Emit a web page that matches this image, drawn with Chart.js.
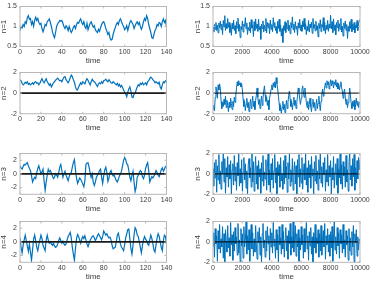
<!DOCTYPE html>
<html>
<head>
<meta charset="UTF-8">
<title>n-mode time series</title>
<script src="https://cdn.jsdelivr.net/npm/chart.js"></script>
<style>
    body {
        margin: 0;
        background: #FFFFFF;
        width: 374px;
        height: 281px;
        overflow: hidden;
        position: relative;
    }
    canvas {
        position: absolute;
    }
</style>
</head>
<body>
<canvas id="s1"></canvas>
<canvas id="l1"></canvas>
<canvas id="s2"></canvas>
<canvas id="l2"></canvas>
<canvas id="s3"></canvas>
<canvas id="l3"></canvas>
<canvas id="s4"></canvas>
<canvas id="l4"></canvas>

<script>
// sampling step of the two time axes
const shortStep = 1;
const longStep = 50;

const shortTicks = [0, 20, 40, 60, 80, 100, 120, 140];
const longTicks = [0, 2000, 4000, 6000, 8000, 10000];
const yTicksN1 = [0.5, 1, 1.5];
const yTicks2 = [-2, 0, 2];

// left column, time 0..140
const shortN1 = [
    0.9, 1.0, 0.97, 1.05, 1.0, 1.12, 1.08, 1.22, 1.27, 1.18, 1.2,
    1.05, 1.12, 1.0, 1.15, 1.23, 1.15, 1.2, 1.1, 1.05, 1.08,
    0.95, 0.87, 0.95, 1.05, 1.02, 1.12, 1.15, 1.19, 1.1, 1.0,
    0.87, 0.78, 0.72, 0.85, 1.0, 1.07, 1.1, 1.15, 1.13, 1.15,
    1.08, 1.0, 0.95, 1.02, 0.98, 0.9, 1.0, 0.92, 0.85, 0.9,
    0.98, 1.02, 0.95, 1.05, 1.1, 1.08, 1.15, 1.19, 1.1, 1.05,
    1.12, 1.0, 0.95, 1.08, 0.92, 1.0, 1.08, 1.12, 1.05, 0.98,
    1.02, 0.92, 0.88, 0.85, 0.93, 0.88, 0.97, 1.05, 1.1, 1.12,
    1.05, 0.95, 0.88, 0.8, 0.85, 0.72, 0.66, 0.68, 0.8, 0.9,
    0.97, 1.05, 1.1, 1.05, 1.15, 1.19, 1.12, 1.05, 1.0, 0.92,
    0.95, 1.02, 0.9, 1.0, 1.1, 1.15, 1.1, 1.05, 0.95, 1.02,
    1.08, 1.12, 1.05, 1.1, 1.0, 0.93, 1.0, 1.12, 1.2, 1.15,
    1.27, 1.2, 1.05, 0.95, 0.85, 0.72, 0.7, 0.8, 0.9, 0.95,
    1.05, 1.02, 1.1, 1.08, 1.0, 1.12, 1.19, 1.1, 1.15, 0.98
];
const shortN2 = [
    1.3, 1.2, 0.95, 0.8, 0.9, 1.05, 0.95, 1.1, 0.85, 0.95, 0.8,
    0.9, 1.0, 0.85, 1.05, 1.1, 0.95, 1.0, 0.8, 0.95, 1.2,
    1.4, 1.15, 1.0, 1.2, 1.4, 1.1, 0.95, 0.75, 0.9, 0.6,
    0.8, 1.0, 1.1, 1.25, 1.35, 1.45, 1.3, 1.2, 1.25, 1.1,
    1.35, 1.55, 1.6, 1.3, 1.15, 1.0, 1.2, 1.5, 1.75, 1.6,
    1.3, 1.05, 0.6, 0.35, 0.3, 0.6, 0.8, 1.0, 0.85, 1.1,
    1.0, 0.9, 1.2, 1.4, 1.25, 1.0, 0.8, 1.1, 1.35, 1.2,
    1.1, 1.0, 0.8, 0.65, 0.9, 1.0, 0.9, 1.1, 0.95, 1.2,
    1.25, 1.35, 1.2, 1.1, 1.3, 1.15, 1.0, 0.95, 1.1, 1.0,
    0.9, 0.8, 0.95, 0.7, 0.85, 0.6, 0.75, 0.55, 0.3, 0.1,
    -0.1, -0.35, 0.1, 0.4, 0.6, 0.2, -0.4, -0.45, -0.1, 0.0,
    0.3, 0.6, 0.8, 0.7, 0.95, 0.85, 1.0, 0.8, 0.9, 1.0,
    0.8, 1.1, 1.2, 1.4, 1.55, 1.45, 1.3, 1.2, 1.0, 1.1,
    1.0, 0.9, 1.05, 0.6, 0.4, 0.8, 1.1, 1.0, 1.2, 1.15
];
const shortN3 = [
    1.2, 0.9, 0.7, 1.1, 1.4, 1.3, 1.5, 1.65, 1.2, 0.8, 0.5,
    -0.3, -1.2, -0.8, -0.5, -0.7, 0.2, 0.8, 1.2, 0.6, 0.0,
    0.3, 0.7, -1.0, -2.4, -1.2, -0.2, 0.7, 0.3, 0.5, 0.1,
    -0.3, -0.7, -0.5, 0.0, -0.2, -0.5, 0.2, 1.0, 1.4, 0.5,
    -0.5, 0.0, 0.4, -0.2, -0.6, -1.0, -0.4, 0.0, 0.2, 1.0,
    1.7, 2.1, 0.6, -0.6, -1.4, -1.0, -0.6, -0.8, -1.1, -1.5,
    -1.9, -1.0, 1.4, 1.6, 1.65, 1.0, 0.2, -0.5, 0.0, -1.2,
    -1.7, -1.2, -0.5, -0.2, 0.1, 0.5, 0.7, -0.5, -1.4, -0.3,
    0.6, 1.0, 0.2, -1.1, -0.6, 0.2, 0.5, 0.0, -0.3, -0.2,
    -0.6, -1.0, -1.2, -0.8, -0.3, 0.0, 0.4, 1.2, 2.0, 2.4,
    2.1, 1.5, 1.3, 0.5, -0.5, -1.0, -0.2, 0.4, -1.2, -2.6,
    -2.0, -0.5, -0.2, 0.2, 0.5, 0.3, -0.4, -0.7, -0.2, 0.8,
    1.3, 1.65, 0.5, -1.2, -0.8, -0.4, -0.6, -0.3, 0.0, 0.5,
    0.2, -0.2, -0.4, 0.1, 0.6, 0.9, 0.4, 0.7, 1.1, 1.05
];
const shortN4 = [
    0.6, -0.8, -1.6, -0.5, 0.3, 1.0, 0.2, -0.6, -1.4, -0.3, -1.5,
    -2.7, -1.2, 0.4, 1.0, 0.2, -0.8, -1.3, -0.4, 0.3, 1.0,
    0.5, -0.5, -0.9, -1.3, 0.2, 1.0, 0.3, -0.2, 0.0, -0.3,
    -0.5, -0.2, -0.6, -0.8, -0.7, -0.3, 0.2, 0.6, 0.2, -0.2,
    0.1, -0.3, -0.5, -0.3, 0.3, 0.8, 1.1, 1.4, 0.6, -0.8,
    -1.8, -2.7, -1.0, 0.5, 1.1, 0.8, 0.3, -0.2, 0.4, 0.8,
    0.5, 0.9, 0.3, -0.3, -0.7, -0.2, 0.2, 0.5, 0.8, 0.9,
    0.6, 0.2, 0.5, 0.9, 1.2, 0.9, 0.6, 0.3, 0.8, 1.6,
    1.3, 1.0, 1.2, 0.8, 0.6, 0.7, 0.3, -0.5, -1.0, -0.9,
    -0.8, 0.0, 1.0, 1.3, 0.5, -0.3, -0.8, -1.0, -1.3, -0.4,
    0.6, 1.2, 1.8, 1.9, 0.4, -1.0, -1.8, -0.5, 1.0, 2.1,
    1.8, 1.0, 0.8, 0.0, -0.8, -1.6, -0.5, 0.3, 0.8, 0.4,
    0.2, -0.3, -0.5, 0.3, 1.0, 0.5, -0.3, -1.2, -1.5, -0.4,
    0.6, 1.2, 0.8, 0.0, -0.8, -1.3, 0.2, 1.0, 0.8, -0.3
];

// right column, time 0..10000 every 50
const longN1 = [
    1.0, 0.86, 1.05, 0.93, 1.1, 0.9, 1.03, 0.84, 1.09, 0.97, 1.13, 0.92, 1.06, 0.8, 1.15, 0.99, 1.27, 0.9, 1.07, 0.95,
    1.2, 0.98, 1.1, 0.85, 1.04, 0.78, 1.08, 0.94, 1.16, 0.9, 1.02, 0.82, 1.12, 0.96, 1.21, 0.88, 1.05, 0.72, 1.0, 0.92,
    1.14, 0.86, 1.06, 1.0, 1.22, 0.94, 1.09, 0.8, 0.98, 0.9, 1.11, 0.84, 1.17, 0.96, 1.04, 0.75, 1.12, 0.9, 1.19, 0.95,
    1.06, 0.88, 1.18, 0.92, 1.0, 0.68, 1.06, 0.95, 1.14, 0.86, 1.03, 0.9, 1.2, 0.84, 1.1, 0.97, 1.08, 0.82, 1.16, 0.93,
    1.05, 0.87, 1.22, 0.98, 1.1, 0.9, 1.0, 0.83, 1.13, 0.95, 1.18, 0.88, 1.04, 0.76, 0.95, 0.6, 1.02, 0.9, 1.12, 0.85,
    1.08, 0.94, 1.16, 0.89, 1.03, 0.82, 1.1, 0.97, 1.24, 0.92, 1.06, 0.85, 1.12, 0.94, 1.01, 0.78, 1.09, 0.96, 1.18, 0.9,
    1.04, 0.88, 1.14, 0.99, 1.2, 0.93, 1.07, 0.8, 1.0, 0.9, 1.15, 0.86, 1.06, 0.97, 1.11, 0.83, 1.2, 0.95, 1.05, 0.89,
    1.13, 0.92, 1.02, 0.74, 1.08, 0.95, 1.17, 0.87, 1.05, 0.98, 1.22, 0.9, 1.1, 0.82, 1.03, 0.93, 1.15, 0.88, 1.06, 0.96,
    1.28, 0.94, 1.12, 0.85, 1.19, 0.9, 1.04, 0.79, 1.1, 0.97, 1.16, 0.88, 1.07, 0.93, 1.2, 0.86, 1.01, 0.76, 1.09, 0.95,
    1.14, 0.9, 1.05, 0.7, 1.0, 0.88, 1.12, 0.95, 1.18, 0.87, 1.06, 0.92, 1.1, 0.84, 1.03, 0.96, 1.15, 0.9, 1.08, 1.12,
    1.18
];
const longN2 = [
    -1.6, -1.2, -1.7, -0.4, 0.6, 0.2, -0.5, 0.8, 0.3, 0.9, 0.4, -0.8, -1.5, -0.9, -1.3, -0.6, -1.1, -0.3, -1.4, -0.7,
    -1.2, -1.8, -0.9, -1.4, -0.5, -1.0, -1.6, -0.8, -1.3, -0.4, -0.9, -0.2, 0.5, 1.1, 0.7, 1.2, 0.8, 1.0, 0.6, 0.9,
    0.3, -0.6, -1.3, -0.8, -1.7, -1.1, -0.5, -1.4, -0.9, -1.8, -1.2, -0.6, -1.5, -1.0, -0.3, -1.3, -0.8, -1.6, -0.7, -0.2,
    0.5, -0.4, -1.1, -0.6, -1.5, -0.9, -0.3, -1.2, -0.5, 0.2, 0.7, -0.2, -0.8, -0.4, -1.2, -0.7, -1.6, -0.5, -0.1, 0.4,
    0.8, 0.3, 1.0, 0.6, 1.1, 0.5, 1.5, 0.9, 0.4, -0.3, -1.0, -1.7, -1.2, -2.0, -1.4, -0.8, -1.6, -1.1, -1.9, -1.3,
    -0.7, -1.5, -0.9, -0.2, 0.2, -0.6, -1.3, -0.8, -1.6, -1.0, -0.4, -1.2, -0.7, -1.5, -0.9, -0.3, 0.5, 0.1, -0.6, -1.1,
    -0.5, 0.3, 0.7, 0.1, -0.4, 0.5, -0.2, -0.9, -1.4, -0.8, -1.6, -1.1, -0.5, -1.3, -1.8, -1.0, -0.6, -1.4, -0.9, -1.7,
    -1.2, -0.6, -1.5, -1.0, -0.3, -1.1, -1.7, -0.8, -0.2, 0.4, -0.3, 0.2, 0.6, 1.0, 0.5, 1.2, 0.8, 1.1, 0.4, 0.9,
    1.3, 0.7, 1.2, 0.9, 0.5, 1.1, 0.8, 1.3, 0.6, 1.0, 0.4, 0.9, 0.3, 0.7, 1.1, 0.5, 0.2, -0.5, 0.1, 0.4,
    -0.4, -1.1, -0.6, -1.4, -0.9, -0.3, 0.5, -0.2, -1.0, -1.5, -0.8, -1.3, -0.7, -1.6, -1.1, -0.5, -1.2, -0.8, -1.4, -0.9,
    -1.0
];
const longN3 = [
    0.5, -1.2, 1.1, -0.4, 1.4, -1.8, 0.8, -0.6, 1.9, -1.0, 0.3, -1.5, 1.2, 0.0, 2.0, -0.8, 1.5, -1.9, 0.6, -0.3,
    1.7, -1.3, 0.9, -0.5, 1.3, -2.0, 0.4, 1.0, -1.1, 1.8, -0.7, 0.7, -1.6, 1.1, -0.2, 2.0, -1.2, 0.5, -0.9, 1.4,
    -1.7, 0.2, 1.6, -0.6, 1.0, -1.4, 0.3, -2.0, 0.9, 1.5, -0.4, 0.6, -1.3, 2.0, -0.8, 1.2, -1.7, 0.1, 1.7, -1.0,
    0.8, -1.5, 1.3, -0.3, 0.5, -1.9, 1.1, -0.7, 1.8, -1.2, 0.2, -0.5, 1.4, -1.6, 0.7, 2.0, -1.1, 0.4, -1.8, 1.0,
    -0.6, 1.5, -1.4, 0.3, 1.9, -0.9, 0.6, -2.0, 1.2, -0.2, 0.9, -1.3, 1.6, -0.7, 0.0, -1.5, 1.3, -1.0, 1.8, -0.4,
    0.7, -1.8, 1.1, -0.5, 2.0, -1.2, 0.4, -0.8, 1.5, -1.6, 0.2, 1.2, -1.0, 0.8, -2.0, 1.4, -0.3, 1.9, -1.3, 0.5,
    -0.9, 1.6, -1.5, 0.1, 1.0, -0.6, 2.0, -1.1, 0.6, -1.8, 1.3, -0.4, 0.9, -1.4, 1.7, -0.2, 0.5, -2.0, 1.2, -0.7,
    1.8, -1.0, 0.3, -1.6, 1.4, -0.5, 2.0, -0.9, 0.7, -1.3, 1.1, -0.1, 1.6, -1.7, 0.4, -0.8, 1.9, -1.2, 0.8, -0.3,
    1.3, -2.0, 0.6, -0.6, 1.7, -1.4, 0.2, 1.0, -1.1, 1.5, -1.9, 0.5, -0.4, 2.0, -1.0, 0.9, -1.5, 1.2, -0.2, 0.7,
    -1.3, 1.8, -0.8, 0.4, -1.7, 1.1, 2.0, -0.6, 0.8, -1.2, 1.5, -0.3, 1.9, -1.6, 0.6, -0.9, 1.3, -0.5, 1.6, 0.4,
    1.4
];
const longN4 = [
    -0.4, 0.9, -1.5, 1.3, -0.2, 0.6, -1.9, 1.1, -0.7, 1.7, -1.1, 0.3, -0.5, 1.5, -1.6, 0.8, -2.0, 1.2, 0.1, -1.0,
    1.6, -0.6, 0.4, -1.4, 1.9, -0.3, 0.7, -1.8, 1.0, -0.9, 1.4, -0.2, 0.5, -1.3, 1.8, -1.1, 0.2, -2.0, 1.3, -0.4,
    0.8, -1.6, 1.5, -0.5, 0.1, 2.0, -1.2, 0.6, -0.8, 1.2, -1.9, 0.4, 1.7, -0.7, 0.9, -1.4, 0.3, -1.0, 1.6, -0.3,
    -1.7, 1.0, -0.1, 1.4, -1.3, 0.5, -2.0, 0.8, 1.8, -0.6, 0.2, -1.5, 1.1, -0.9, 1.5, -0.2, 0.6, -1.8, 1.3, -0.5,
    0.9, -1.1, 1.9, -0.4, 0.3, -1.6, 1.2, -0.8, 0.7, -2.0, 1.5, -0.3, 0.4, -1.2, 1.7, -0.7, 1.0, -1.5, 0.2, 1.4,
    -0.9, 0.6, -1.7, 1.1, -0.2, 1.8, -1.3, 0.5, -0.6, 2.0, -1.0, 0.3, 1.6, -1.4, 0.8, -0.5, 1.2, -1.9, 0.4, -0.8,
    1.5, -0.3, 0.7, -1.6, 1.3, -1.0, 0.2, 1.9, -0.7, 0.6, -1.8, 1.0, -0.4, 1.4, -1.2, 0.5, -2.0, 0.9, -0.6, 1.7,
    -1.1, 0.4, -0.2, 1.2, -1.5, 0.8, -0.9, 1.6, -1.3, 0.1, 1.1, -0.5, 1.8, -1.7, 0.6, -0.3, 1.3, -1.0, 0.7, -1.4,
    1.0, -0.6, 1.5, -1.9, 0.3, 2.0, -0.8, 0.5, -1.2, 1.4, -0.4, 0.9, -1.6, 1.2, -0.2, 0.7, -1.1, 1.7, -0.7, 0.2,
    -1.5, 1.1, -0.3, 0.6, -1.8, 1.3, -0.9, 0.4, -1.3, 1.0, -0.5, 1.6, -2.0, 0.8, -0.1, 1.2, -1.4, 0.5, -0.8, 0.3,
    -0.2
];

// plot boxes in page pixels
const rowBoxes = [
    { top: 5, h: 41.5 },
    { top: 71, h: 42.7 },
    { top: 152.5, h: 41.8 },
    { top: 220.5, h: 41.8 }
];
const BLUE = '#0072BD';
const TEXT = '#404040';
const FONT = "'Liberation Sans', Arial, sans-serif";

// axes box with inward tick marks, like the original plots
const boxPlugin = {
    id: 'axesBox',
    afterDraw(chart) {
        const { ctx, chartArea: a, scales } = chart;
        ctx.save();
        ctx.strokeStyle = '#b8b8b8';
        ctx.lineWidth = 1;
        ctx.strokeRect(a.left, a.top, a.right - a.left, a.bottom - a.top);
        ctx.beginPath();
        scales.x.ticks.forEach(t => {
            const px = scales.x.getPixelForValue(t.value);
            ctx.moveTo(px, a.bottom); ctx.lineTo(px, a.bottom - 2);
            ctx.moveTo(px, a.top); ctx.lineTo(px, a.top + 2);
        });
        scales.y.ticks.forEach(t => {
            const py = scales.y.getPixelForValue(t.value);
            ctx.moveTo(a.left, py); ctx.lineTo(a.left + 2, py);
            ctx.moveTo(a.right, py); ctx.lineTo(a.right - 2, py);
        });
        ctx.stroke();
        ctx.restore();
    }
};

function toPoints(values, step) {
    return values.map((v, i) => ({ x: i * step, y: v }));
}

function makePanel(id, opts) {
    const box = rowBoxes[opts.row];
    const left = opts.long ? 187 : 0;
    const width = 187;
    const yWidth = opts.long ? 26 : 20;
    const plotRight = opts.long ? 360 : 166.5;
    const canvasTop = Math.floor(box.top) - 5;
    const padTop = box.top - canvasTop;
    const height = 72;
    const xHeight = 20;

    const cv = document.getElementById(id);
    cv.width = width;
    cv.height = height;
    cv.style.left = left + 'px';
    cv.style.top = canvasTop + 'px';

    const xMax = opts.long ? 10000 : 140;
    const datasets = [{
        data: toPoints(opts.values, opts.long ? longStep : shortStep),
        borderColor: BLUE,
        borderWidth: opts.long ? 1 : 1.2,
        pointRadius: 0,
        tension: 0,
        order: 1
    }];
    if (opts.zero) {
        // zero reference line drawn over the series
        datasets.push({
            data: [{ x: 0, y: 0 }, { x: xMax, y: 0 }],
            borderColor: opts.long ? '#000000' : '#1a1a1a',
            borderWidth: opts.long ? 1 : 1.6,
            pointRadius: 0,
            order: 0
        });
    }

    new Chart(cv.getContext('2d'), {
        type: 'line',
        data: { datasets: datasets },
        options: {
            responsive: false,
            animation: false,
            layout: {
                padding: {
                    left: 0,
                    top: padTop,
                    right: left + width - plotRight,
                    bottom: height - padTop - box.h - xHeight
                }
            },
            plugins: { legend: { display: false }, tooltip: { enabled: false } },
            scales: {
                x: {
                    type: 'linear',
                    min: 0,
                    max: xMax,
                    afterBuildTicks: s => { s.ticks = (opts.long ? longTicks : shortTicks).map(v => ({ value: v })); },
                    afterFit: s => { s.height = xHeight; },
                    grid: { display: false, drawTicks: false },
                    border: { display: false },
                    ticks: {
                        padding: 2,
                        maxRotation: 0,
                        autoSkip: false,
                        color: TEXT,
                        font: { family: FONT, size: 7, lineHeight: 1 },
                        callback: v => String(v)
                    },
                    title: {
                        display: true,
                        text: 'time',
                        color: TEXT,
                        font: { family: FONT, size: 8, lineHeight: 1 },
                        padding: { top: 0, bottom: 2 }
                    }
                },
                y: {
                    min: opts.yMin,
                    max: opts.yMax,
                    afterBuildTicks: s => { s.ticks = opts.yTicks.map(v => ({ value: v })); },
                    afterFit: s => { s.width = yWidth; },
                    grid: { display: false, drawTicks: false },
                    border: { display: false },
                    ticks: {
                        padding: 3,
                        autoSkip: false,
                        color: TEXT,
                        font: { family: FONT, size: 7, lineHeight: 1 },
                        callback: v => String(v)
                    },
                    title: {
                        display: true,
                        text: opts.title,
                        color: TEXT,
                        font: { family: FONT, size: 8, lineHeight: 1 },
                        padding: { top: opts.long ? 6.5 : 0, bottom: 0 }
                    }
                }
            }
        },
        plugins: [boxPlugin]
    });
}

makePanel('s1', { row: 0, long: false, values: shortN1, yMin: 0.5, yMax: 1.5, yTicks: yTicksN1, title: 'n=1', zero: false });
makePanel('l1', { row: 0, long: true, values: longN1, yMin: 0.5, yMax: 1.5, yTicks: yTicksN1, title: 'n=1', zero: false });
makePanel('s2', { row: 1, long: false, values: shortN2, yMin: -2, yMax: 2, yTicks: yTicks2, title: 'n=2', zero: true });
makePanel('l2', { row: 1, long: true, values: longN2, yMin: -2, yMax: 2, yTicks: yTicks2, title: 'n=2', zero: true });
makePanel('s3', { row: 2, long: false, values: shortN3, yMin: -3, yMax: 3, yTicks: yTicks2, title: 'n=3', zero: true });
makePanel('l3', { row: 2, long: true, values: longN3, yMin: -2, yMax: 2, yTicks: yTicks2, title: 'n=3', zero: true });
makePanel('s4', { row: 3, long: false, values: shortN4, yMin: -3, yMax: 3, yTicks: yTicks2, title: 'n=4', zero: true });
makePanel('l4', { row: 3, long: true, values: longN4, yMin: -2, yMax: 2, yTicks: yTicks2, title: 'n=4', zero: true });
</script>
</body>
</html>
